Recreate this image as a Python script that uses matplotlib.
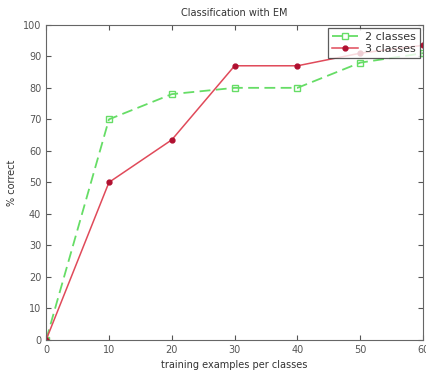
import matplotlib
matplotlib.use("Agg")
import matplotlib.pyplot as plt

# training examples per class
x_vals = [0, 10, 20, 30, 40, 50, 60]
two_classes = [0, 70, 78, 80, 80, 88, 91]
three_classes = [0, 50, 63.5, 87, 87, 91, 93.5]

fig = plt.figure(figsize=(4.27, 3.76), dpi=100)
ax = fig.add_axes([0.108, 0.096, 0.883, 0.838])

ax.plot(x_vals, two_classes, color="#66dd66", linestyle="--", dashes=(6, 3),
        linewidth=1.3, marker="s", markersize=5, markerfacecolor="none",
        markeredgecolor="#66dd66", label="2 classes")
ax.plot(x_vals, three_classes, color="#e04a5a", linewidth=1.1,
        marker="o", markersize=3.5, markerfacecolor="#b01030",
        markeredgecolor="#b01030", label="3 classes")

ax.set_xlim(0, 60)
ax.set_ylim(0, 100)
ax.set_xticks(range(0, 61, 10))
ax.set_yticks(range(0, 101, 10))
ax.tick_params(direction="in", top=True, right=True, labelsize=7,
               colors="#555555", length=3.5)
for s in ax.spines.values():
    s.set_color("#666666")

ax.set_title("Classification with EM", fontsize=7, color="#333333")
ax.set_xlabel("training examples per classes", fontsize=7, color="#333333")
ax.set_ylabel("% correct", fontsize=7, color="#333333")

leg = ax.legend(loc="upper right", fontsize=8, frameon=True, fancybox=False,
                borderpad=0.35, labelspacing=0.15, handlelength=2.4,
                handletextpad=0.6, borderaxespad=0.3)
leg.get_frame().set_edgecolor("#333333")
leg.get_frame().set_linewidth(0.9)
for t in leg.get_texts():
    t.set_color("#333333")

plt.savefig("out.png", dpi=100)
